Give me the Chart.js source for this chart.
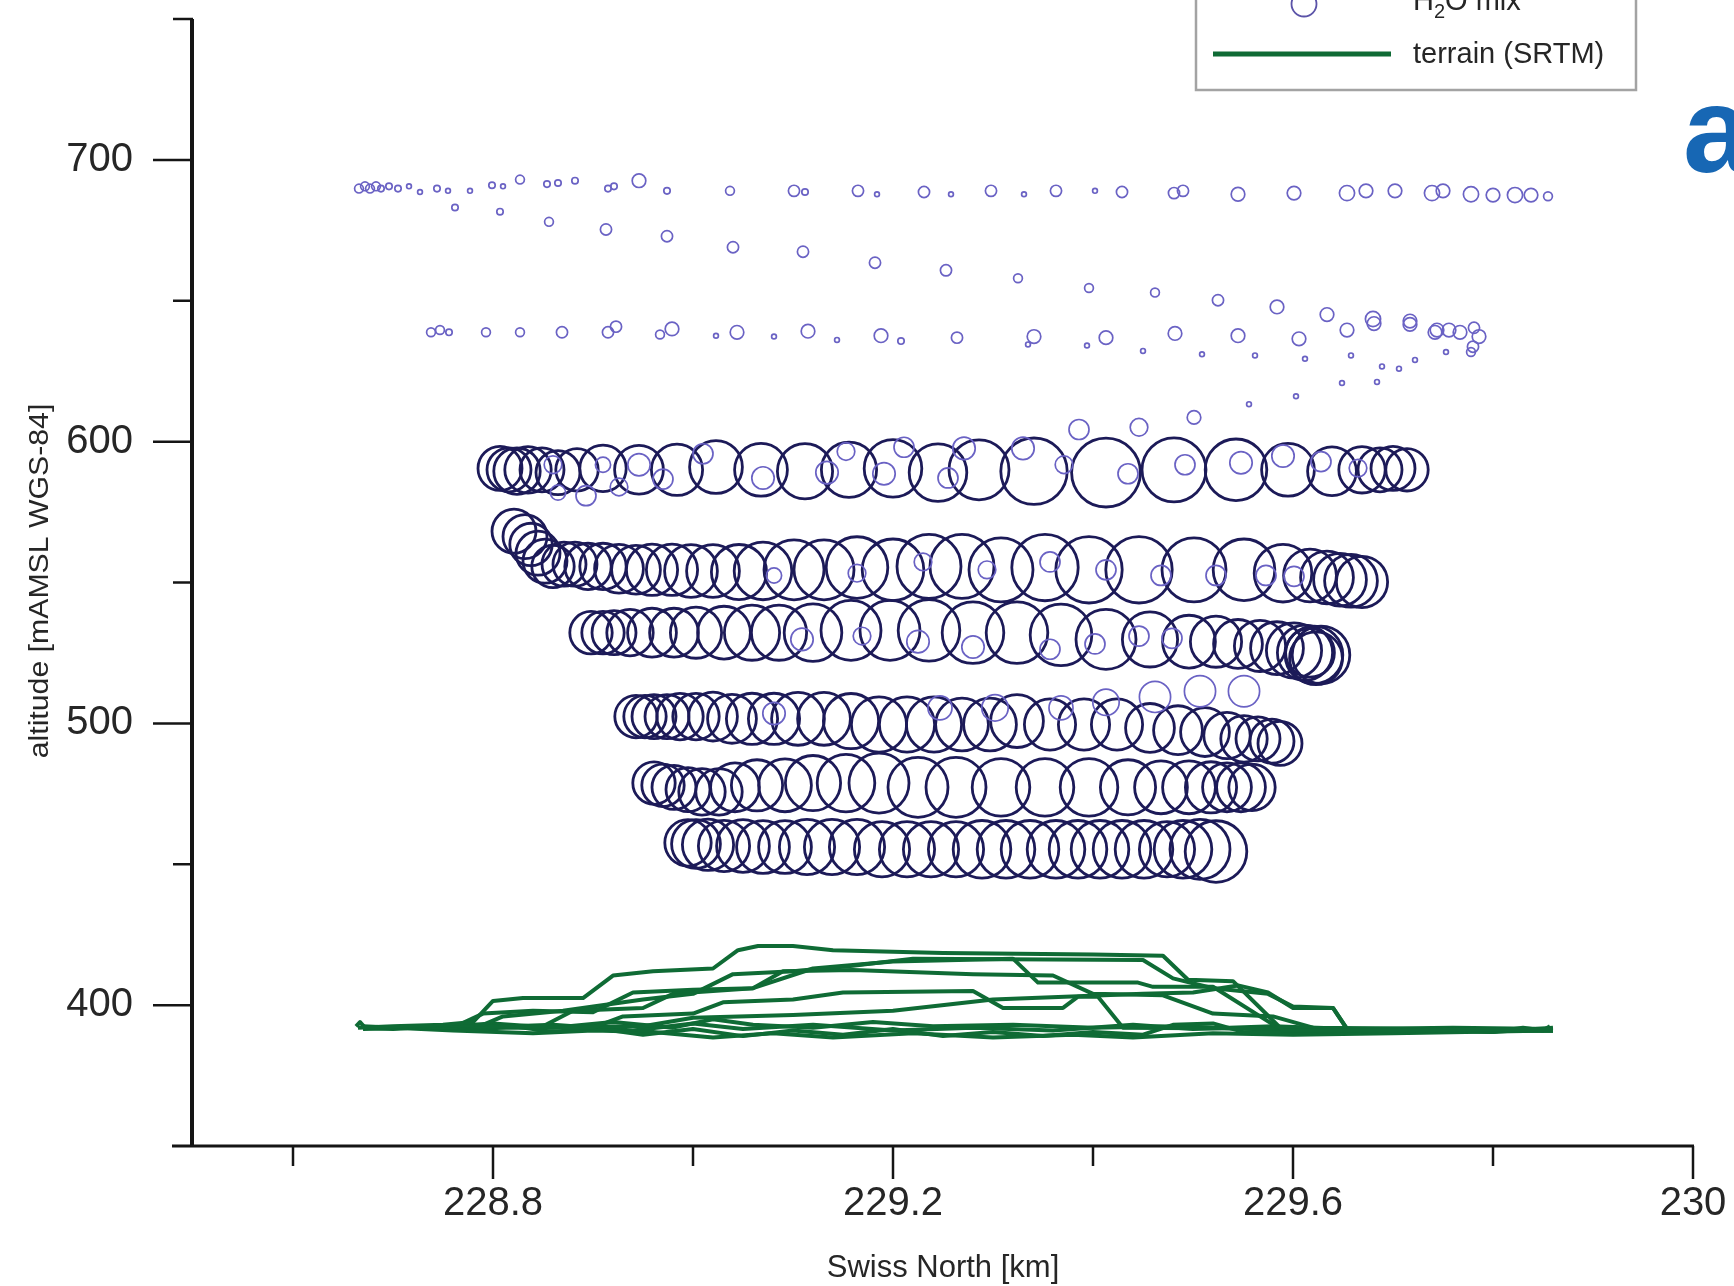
<!DOCTYPE html>
<html>
<head>
<meta charset="utf-8">
<script src="https://cdn.jsdelivr.net/npm/chart.js@4.4.1/dist/chart.umd.min.js"></script>
<style>
  html, body { margin: 0; padding: 0; background: #ffffff; }
  canvas { display: block; }
</style>
</head>
<body>
<canvas id="chart" width="1734" height="1286"></canvas>
<script>
// ---- axis ticks ----
const xTickLabels = [228.8, 229.2, 229.6, 230];
const xMinorTicks = [228.6, 229.0, 229.4, 229.8];
const yTickLabels = [400, 500, 600, 700];
const yMinorTicks = [450, 550, 650, 750];

// ---- H2O mixing ratio along the flight legs (km north, m altitude, g/kg) ----
const leg590X = [228.807,228.816,228.824,228.835,228.849,228.865,228.884,228.910,228.946,228.984,229.023,229.068,229.112,229.156,229.200,229.245,229.286,229.341,229.413,229.481,229.543,229.595,229.639,229.669,229.687,229.700,229.714];
const leg590Y = [590.5,590,589.5,590,590,589,590,590.5,590,590,591,590,589.5,590,590.5,589,590,589.5,589,590,590,590,589.5,590,590,590.5,590];
const leg590Mix = [5.5,5.5,5.8,5.8,5.5,5.5,5.3,5.8,6.1,6.4,6.6,6.6,6.9,6.9,7.2,7.2,7.5,8.3,8.6,8.0,7.7,6.6,6.1,5.8,5.5,5.5,5.3];

const leg555X = [228.821,228.832,228.838,228.845,228.852,228.860,228.871,228.882,228.895,228.910,228.926,228.943,228.959,228.979,228.998,229.020,229.046,229.070,229.101,229.131,229.164,229.200,229.236,229.269,229.308,229.352,229.396,229.446,229.501,229.551,229.590,229.617,229.634,229.647,229.658,229.669];
const leg555Y = [568.2,566.3,563.5,560.4,557.6,555.7,556.5,556.5,555.7,555.7,554.9,554.5,554.5,554.5,554.1,554.1,553.7,554.1,554.5,554.5,555.3,554.5,555.7,555.7,554.5,555.3,554.5,554.5,554.5,554.5,553.3,552.5,551.8,551.0,550.6,550.2];
const leg555Mix = [5.5,5.5,5.3,5.5,5.5,5.3,5.5,5.5,5.8,5.8,6.1,6.1,6.4,6.4,6.6,6.6,6.9,7.2,7.5,7.5,7.7,7.7,8.0,8.0,8.0,8.3,8.3,8.3,8.0,7.7,7.2,6.6,6.6,6.6,6.6,6.4];

const leg532X = [228.898,228.910,228.921,228.937,228.959,228.981,229.003,229.031,229.059,229.086,229.120,229.158,229.197,229.236,229.280,229.324,229.368,229.413,229.457,229.496,229.523,229.545,229.567,229.584,229.601,229.612,229.621,229.628,229.623,229.617];
const leg532Y = [532.2,532.2,532.2,532.2,532.2,532.2,532.2,532.2,532.2,532.2,532.2,533.0,533.0,533.0,532.2,532.2,531.4,529.8,529.8,529.0,529.0,528.2,527.5,526.7,525.9,525.1,524.3,524.3,523.1,525.1];
const leg532Mix = [5.3,5.3,5.5,5.8,6.1,6.1,6.4,6.6,6.9,6.9,7.2,7.5,7.5,7.7,7.7,7.7,7.7,7.5,6.9,6.6,6.4,6.1,6.4,6.6,6.9,6.9,7.2,7.2,6.6,6.1];

const leg502X = [228.943,228.952,228.961,228.974,228.987,229.003,229.020,229.039,229.059,229.081,229.105,229.131,229.158,229.186,229.214,229.241,229.269,229.297,229.324,229.357,229.391,229.424,229.457,229.485,229.512,229.534,229.551,229.565,229.579,229.587];
const leg502Y = [502.4,502.4,502.4,502.4,502.4,502.4,502.4,501.6,501.6,501.6,501.6,501.6,500.8,499.6,499.6,499.6,499.6,499.6,500.8,499.6,499.6,499.6,498.4,497.6,496.9,495.7,494.5,494.5,493.7,492.9];
const leg502Mix = [5.3,5.3,5.5,5.5,5.8,5.8,6.1,6.1,6.4,6.4,6.6,6.6,6.9,6.9,6.9,6.9,6.6,6.6,6.6,6.4,6.4,6.4,6.1,6.1,6.1,5.8,5.8,5.5,5.5,5.5];

const leg478X = [228.961,228.970,228.981,228.995,229.009,229.026,229.042,229.064,229.092,229.120,229.153,229.186,229.225,229.263,229.308,229.352,229.396,229.435,229.468,229.496,229.518,229.534,229.548,229.559];
const leg478Y = [478.8,478.0,477.3,476.5,475.7,475.7,477.3,478.0,478.0,478.8,478.8,478.8,477.3,477.3,477.3,477.3,477.3,477.3,477.3,477.3,477.3,477.3,477.3,477.3];
const leg478Mix = [5.3,5.3,5.5,5.5,5.8,5.8,6.1,6.4,6.6,6.9,7.2,7.5,7.5,7.5,7.2,7.2,7.2,6.9,6.6,6.6,6.4,6.1,6.1,5.8];

const leg456X = [228.995,229.003,229.015,229.031,229.050,229.070,229.092,229.114,229.139,229.164,229.189,229.214,229.238,229.263,229.289,229.313,229.337,229.363,229.385,229.407,229.429,229.451,229.474,229.490,229.507,229.523];
const leg456Y = [457.6,457.2,456.9,456.5,456.5,456.1,456.1,456.1,456.1,456.1,455.3,455.3,455.3,455.3,455.3,455.3,455.3,455.3,455.3,455.3,455.3,455.3,455.3,455.3,455.3,454.5];
const leg456Mix = [5.8,6.1,6.4,6.4,6.6,6.6,6.6,6.9,6.9,6.9,6.9,6.9,6.9,6.9,7.2,7.2,7.2,7.2,7.2,7.2,7.2,7.2,6.9,7.2,7.5,7.7];

// ---- low-value samples (lighter markers) ----
const lowX = [228.860,228.865,228.893,228.910,228.926,228.946,228.970,229.010,229.070,229.134,229.153,229.191,229.211,229.255,229.271,229.330,229.371,229.386,229.435,229.446,229.492,229.501,229.548,229.590,229.628,229.665,
  229.081,229.164,229.230,229.294,229.357,229.413,229.468,229.523,229.573,229.601,
  229.109,229.169,229.225,229.280,229.357,229.402,229.446,229.479,
  229.081,229.247,229.302,229.368,229.413,229.462,229.507,229.551];
const lowY = [591.8,581.9,580.8,591.8,583.9,591.8,586.7,595.7,587.1,589.0,596.5,588.6,598.0,587.1,597.6,597.6,591.8,604.3,588.6,605.1,591.8,608.6,592.5,594.9,592.9,590.6,
  552.5,553.3,557.3,554.5,557.3,554.5,552.5,552.5,552.5,552.2,
  529.8,531.0,529.0,527.1,526.3,528.2,531.0,530.2,
  503.5,505.5,505.5,505.5,507.5,509.4,511.4,511.4];
const lowMix = [2.2,1.9,2.5,1.9,2.2,2.8,2.5,2.5,2.8,2.8,2.2,2.8,2.5,2.5,2.8,2.8,2.2,2.5,2.5,2.2,2.5,1.7,2.8,2.8,2.5,2.2,
  1.9,2.2,2.2,2.2,2.5,2.5,2.5,2.5,2.5,2.5,
  2.8,2.2,2.8,2.8,2.5,2.5,2.5,2.5,
  2.8,3.0,3.3,3.0,3.3,3.9,3.9,3.9];

const topX = [228.666,228.672,228.677,228.683,228.688,228.696,228.705,228.716,228.727,228.744,228.755,228.777,228.799,228.810,228.827,228.854,228.865,228.882,228.915,228.921,228.946,228.974,229.037,229.101,229.112,229.165,229.184,229.231,229.258,229.298,229.331,229.363,229.402,229.429,229.481,229.490,229.545,229.601,229.654,229.673,229.702,229.739,229.750,229.778,229.800,229.822,229.838,229.855];
const topY = [689.8,690.6,689.8,690.6,689.8,690.6,689.8,690.6,688.6,689.8,689.0,689.0,691.0,690.6,693.0,691.4,691.8,692.6,689.8,690.6,692.6,689.0,689.0,689.0,688.6,689.0,687.8,688.6,687.8,689.0,687.8,689.0,689.0,688.6,688.2,689.0,687.8,688.2,688.2,689.0,689.0,688.2,689.0,687.8,687.5,687.5,687.5,687.1];
const topMix = [1.1,1.1,1.1,1.1,0.8,0.8,0.8,0.6,0.6,0.8,0.6,0.6,0.8,0.6,1.1,0.8,0.8,0.8,0.8,0.8,1.7,0.8,1.1,1.4,0.8,1.4,0.6,1.4,0.6,1.4,0.6,1.4,0.6,1.4,1.4,1.4,1.7,1.7,1.9,1.7,1.7,1.9,1.7,1.9,1.7,1.9,1.7,1.1];

const descentX = [228.762,228.807,228.856,228.913,228.974,229.040,229.110,229.182,229.253,229.325,229.396,229.462,229.525,229.584,229.634,229.680,229.717,229.744];
const descentY = [683.1,681.6,678.0,675.3,672.9,669.0,667.4,663.5,660.8,658.0,654.5,652.9,650.2,647.8,645.1,643.5,642.8,639.6];
const descentMix = [0.8,0.8,1.1,1.4,1.4,1.4,1.4,1.4,1.4,1.1,1.1,1.1,1.4,1.7,1.7,1.9,1.7,1.7];

const midX = [228.738,228.747,228.756,228.793,228.827,228.869,228.915,228.923,228.967,228.979,229.023,229.044,229.081,229.115,229.144,229.188,229.208,229.264,229.341,229.335,229.413,229.394,229.482,229.450,229.545,229.509,229.606,229.562,229.654,229.612,229.681,229.658,229.717,229.689,229.742,229.756,229.767,229.781,229.786,229.780,229.778,229.722,229.753,229.706,229.684,229.556,229.603,229.649];
const midY = [638.8,639.6,638.8,638.8,638.8,638.8,638.8,640.8,638.0,640.0,637.6,638.8,637.3,639.2,636.1,637.6,635.7,636.9,637.3,634.5,636.9,634.1,638.4,632.2,637.6,631.0,636.5,630.6,639.6,629.4,641.9,630.6,641.6,626.7,638.8,639.6,638.8,640.4,637.3,633.7,631.8,629.0,631.8,625.9,621.2,613.3,616.1,620.8];
const midMix = [1.1,1.1,0.8,1.1,1.1,1.4,1.4,1.4,1.1,1.7,0.6,1.7,0.6,1.7,0.6,1.7,0.8,1.4,1.7,0.6,1.7,0.6,1.7,0.6,1.7,0.6,1.7,0.6,1.7,0.6,1.7,0.6,1.7,0.6,1.7,1.7,1.7,1.4,1.7,1.4,1.1,0.6,0.6,0.6,0.6,0.6,0.6,0.6];

// ---- terrain profiles under each leg (SRTM), [km north, m] ----
const terrain1 = [[228.665,392],[228.70,392.5],[228.75,393],[228.78,394],[228.80,401.5],[228.83,402.5],[228.89,402.5],[228.92,410.5],[228.96,412],[229.02,413],[229.045,419.5],[229.065,421],[229.10,421],[229.14,419.5],[229.25,418.5],[229.40,418],[229.47,417.5],[229.495,409],[229.54,408.5],[229.59,391],[229.70,391],[229.86,391.5]];
const terrain2 = [[228.67,392],[228.79,393],[228.81,396],[228.87,398],[228.95,402],[229.00,404],[229.04,411],[229.10,412],[229.16,414],[229.22,416.5],[229.45,416],[229.48,409.5],[229.52,406],[229.575,404],[229.60,399.5],[229.64,399],[229.655,391],[229.86,391]];
const terrain3 = [[228.67,392],[228.85,392.5],[228.88,398],[228.95,399],[228.98,404],[229.06,406],[229.12,413],[229.20,415.5],[229.32,416.5],[229.345,408],[229.445,408],[229.46,406.5],[229.52,406.5],[229.585,392],[229.86,391]];
const terrain4 = [[228.67,392],[228.90,392],[228.93,396],[229.00,397],[229.03,401],[229.10,402],[229.15,404.5],[229.28,405],[229.31,399],[229.37,399],[229.385,403],[229.405,403],[229.43,392],[229.86,391]];
const terrain5 = [[228.67,392],[228.95,392.5],[229.00,395.5],[229.10,396.5],[229.20,398],[229.30,402],[229.45,404],[229.50,404.5],[229.545,407],[229.575,404.5],[229.60,399],[229.64,399],[229.655,391],[229.86,391.5]];
const terrain6 = [[228.663,392.5],[228.667,394],[228.672,392],[228.70,391.5],[228.74,392.5],[228.78,391],[228.82,392.5],[228.86,390.5],[228.90,392],[228.95,389.5],[229.00,391.5],[229.05,389],[229.10,391],[229.15,389.5],[229.20,391.5],[229.25,389],[229.30,390.5],[229.35,389],[229.40,390.5],[229.45,389.5],[229.48,393],[229.52,393.5],[229.55,390.5],[229.60,390],[229.65,391],[229.70,390.5],[229.75,391],[229.80,390.5],[229.83,392],[229.85,391],[229.857,392.5]];
const terrain7 = [[228.67,391.5],[228.73,392],[228.80,393.5],[228.86,392],[228.92,394],[228.98,392],[229.02,395],[229.06,393],[229.12,392],[229.18,394],[229.24,392.5],[229.32,393],[229.40,392],[229.48,392.5],[229.56,391.5],[229.64,391],[229.72,391.5],[229.80,390.5],[229.86,392]];
const terrain8 = [[228.67,392],[228.76,392],[228.79,397],[228.84,398],[228.90,397.5],[228.94,404.5],[229.00,405.5],[229.06,406],[229.09,412],[229.16,412.5],[229.28,411],[229.36,410.5],[229.40,404],[229.47,403.5],[229.52,397],[229.58,396],[229.62,392],[229.86,391]];
const terrain9 = [[228.67,392.5],[228.76,391],[228.84,390],[228.90,391],[228.96,390.5],[229.02,388.5],[229.08,390],[229.14,388.5],[229.22,390],[229.30,388.5],[229.38,389.5],[229.44,388.5],[229.52,390],[229.60,389.5],[229.70,390],[229.86,391]];
const terrain10 = [[228.67,392],[228.78,392],[228.86,393],[228.94,391],[229.00,393.5],[229.05,391.5],[229.12,393],[229.20,391],[229.28,392],[229.36,391],[229.44,393],[229.50,391.5],[229.58,392.5],[229.66,391.5],[229.76,392],[229.86,391.5]];

// ---- styling ----
const R_PX_PER_GKG = 4;           // bubble radius in px per g/kg
const DARK = '#1c1a58';
const LIGHT = '#6a62c4';
const GREEN = '#0f6b35';
const TEXT = '#262626';
const FONT = '"Liberation Sans", Arial, sans-serif';

function bubbles(xs, ys, mix) {
  return xs.map((x, i) => ({ x: x, y: ys[i], r: mix[i] * R_PX_PER_GKG }));
}
function bubbleSet(label, data, color, width) {
  return { type: 'bubble', label: label, data: data, borderColor: color,
           backgroundColor: 'rgba(0,0,0,0)', borderWidth: width, hoverRadius: 0 };
}
function terrainSet(path) {
  return { type: 'line', label: 'terrain (SRTM)', data: path.map(p => ({ x: p[0], y: p[1] })),
           borderColor: GREEN, borderWidth: 4, pointRadius: 0, fill: false, tension: 0,
           borderJoinStyle: 'round' };
}

const terrainPaths = [terrain1, terrain2, terrain3, terrain4, terrain5, terrain6, terrain7, terrain8, terrain9, terrain10];

const datasets = [
  ...terrainPaths.map(terrainSet),
  bubbleSet('low', bubbles(lowX, lowY, lowMix), LIGHT, 1.7),
  bubbleSet('upper 690 m', bubbles(topX, topY, topMix), LIGHT, 1.7),
  bubbleSet('descent', bubbles(descentX, descentY, descentMix), LIGHT, 1.7),
  bubbleSet('upper 640 m', bubbles(midX, midY, midMix), LIGHT, 1.7),
  bubbleSet('H2O mix', bubbles(leg590X, leg590Y, leg590Mix), DARK, 2.8),
  bubbleSet('H2O mix', bubbles(leg555X, leg555Y, leg555Mix), DARK, 2.8),
  bubbleSet('H2O mix', bubbles(leg532X, leg532Y, leg532Mix), DARK, 2.8),
  bubbleSet('H2O mix', bubbles(leg502X, leg502Y, leg502Mix), DARK, 2.8),
  bubbleSet('H2O mix', bubbles(leg478X, leg478Y, leg478Mix), DARK, 2.8),
  bubbleSet('H2O mix', bubbles(leg456X, leg456Y, leg456Mix), DARK, 2.8)
];

// Axis lines, tick marks, axis titles, legend box and panel letter
const decorations = {
  id: 'decorations',
  afterDraw(chart) {
    const { ctx, chartArea: a, scales: { x, y } } = chart;
    const seg = (x1, y1, x2, y2) => { ctx.beginPath(); ctx.moveTo(x1, y1); ctx.lineTo(x2, y2); ctx.stroke(); };
    ctx.save();
    ctx.strokeStyle = '#151515';
    ctx.lineCap = 'butt';

    // axes
    ctx.lineWidth = 4;
    seg(a.left - 1, a.top, a.left - 1, a.bottom + 1);
    ctx.lineWidth = 3;
    seg(a.left - 21, a.bottom, a.right + 1, a.bottom);

    // y ticks (outward, left)
    ctx.lineWidth = 2.5;
    yTickLabels.forEach(v => { const p = y.getPixelForValue(v); seg(a.left - 40, p, a.left, p); });
    yMinorTicks.forEach(v => { const p = y.getPixelForValue(v); seg(a.left - 20, p, a.left, p); });
    // x ticks (outward, down)
    xTickLabels.forEach(v => { const p = x.getPixelForValue(v); seg(p, a.bottom, p, a.bottom + 33); });
    xMinorTicks.forEach(v => { const p = x.getPixelForValue(v); seg(p, a.bottom, p, a.bottom + 20); });

    // axis titles
    ctx.fillStyle = TEXT;
    ctx.textAlign = 'center';
    ctx.textBaseline = 'middle';
    ctx.font = '31px ' + FONT;
    ctx.fillText('Swiss North [km]', 943, 1268);
    ctx.save();
    ctx.translate(41, 581);
    ctx.rotate(-Math.PI / 2);
    ctx.scale(1.12, 1);
    ctx.font = '27px ' + FONT;
    ctx.fillText('altitude [mAMSL WGS-84]', 0, 0);
    ctx.restore();

    // legend (box runs off the top edge)
    ctx.lineWidth = 2.5;
    ctx.strokeStyle = '#a3a3a3';
    ctx.strokeRect(1196, -20, 440, 110);
    ctx.strokeStyle = '#5b53a8';
    ctx.lineWidth = 1.8;
    ctx.beginPath(); ctx.arc(1304, 4, 12.5, 0, Math.PI * 2); ctx.stroke();
    ctx.strokeStyle = GREEN;
    ctx.lineWidth = 5;
    seg(1213, 54, 1391, 54);
    ctx.fillStyle = TEXT;
    ctx.textAlign = 'left';
    ctx.textBaseline = 'alphabetic';
    ctx.font = '29px ' + FONT;
    let tx = 1413;
    ctx.fillText('H', tx, 10); tx += ctx.measureText('H').width;
    ctx.font = '20px ' + FONT;
    ctx.fillText('2', tx, 18); tx += ctx.measureText('2').width;
    ctx.font = '29px ' + FONT;
    ctx.fillText('O mix', tx, 10);
    ctx.textBaseline = 'middle';
    ctx.fillText('terrain (SRTM)', 1413, 55);

    // panel letter
    ctx.fillStyle = '#1767b4';
    ctx.textBaseline = 'alphabetic';
    ctx.font = 'bold 122px ' + FONT;
    ctx.fillText('a', 1683, 172);
    ctx.restore();
  }
};

new Chart(document.getElementById('chart'), {
  type: 'bubble',
  data: { datasets: datasets },
  options: {
    responsive: false,
    animation: false,
    events: [],
    layout: { autoPadding: false, padding: { top: 19, right: 41, left: 0, bottom: 0 } },
    plugins: { legend: { display: false }, tooltip: { enabled: false } },
    scales: {
      x: {
        type: 'linear', min: 228.5, max: 230,
        grid: { display: false, drawTicks: false, tickLength: 0 },
        border: { display: false },
        afterBuildTicks: s => { s.ticks = xTickLabels.map(v => ({ value: v })); },
        afterFit: s => { s.height = 140; s.paddingLeft = 0; s.paddingRight = 0; },
        ticks: { padding: 34, color: TEXT, font: { family: FONT, size: 40 }, maxRotation: 0,
                 autoSkip: false, callback: v => String(v) }
      },
      y: {
        type: 'linear', min: 350, max: 750,
        grid: { display: false, drawTicks: false, tickLength: 0 },
        border: { display: false },
        afterBuildTicks: s => { s.ticks = yTickLabels.map(v => ({ value: v })); },
        afterFit: s => { s.width = 193; s.paddingTop = 0; s.paddingBottom = 0; },
        ticks: { padding: 60, color: TEXT, font: { family: FONT, size: 40 }, autoSkip: false,
                 callback: v => String(v) }
      }
    }
  },
  plugins: [decorations]
});
</script>
</body>
</html>
